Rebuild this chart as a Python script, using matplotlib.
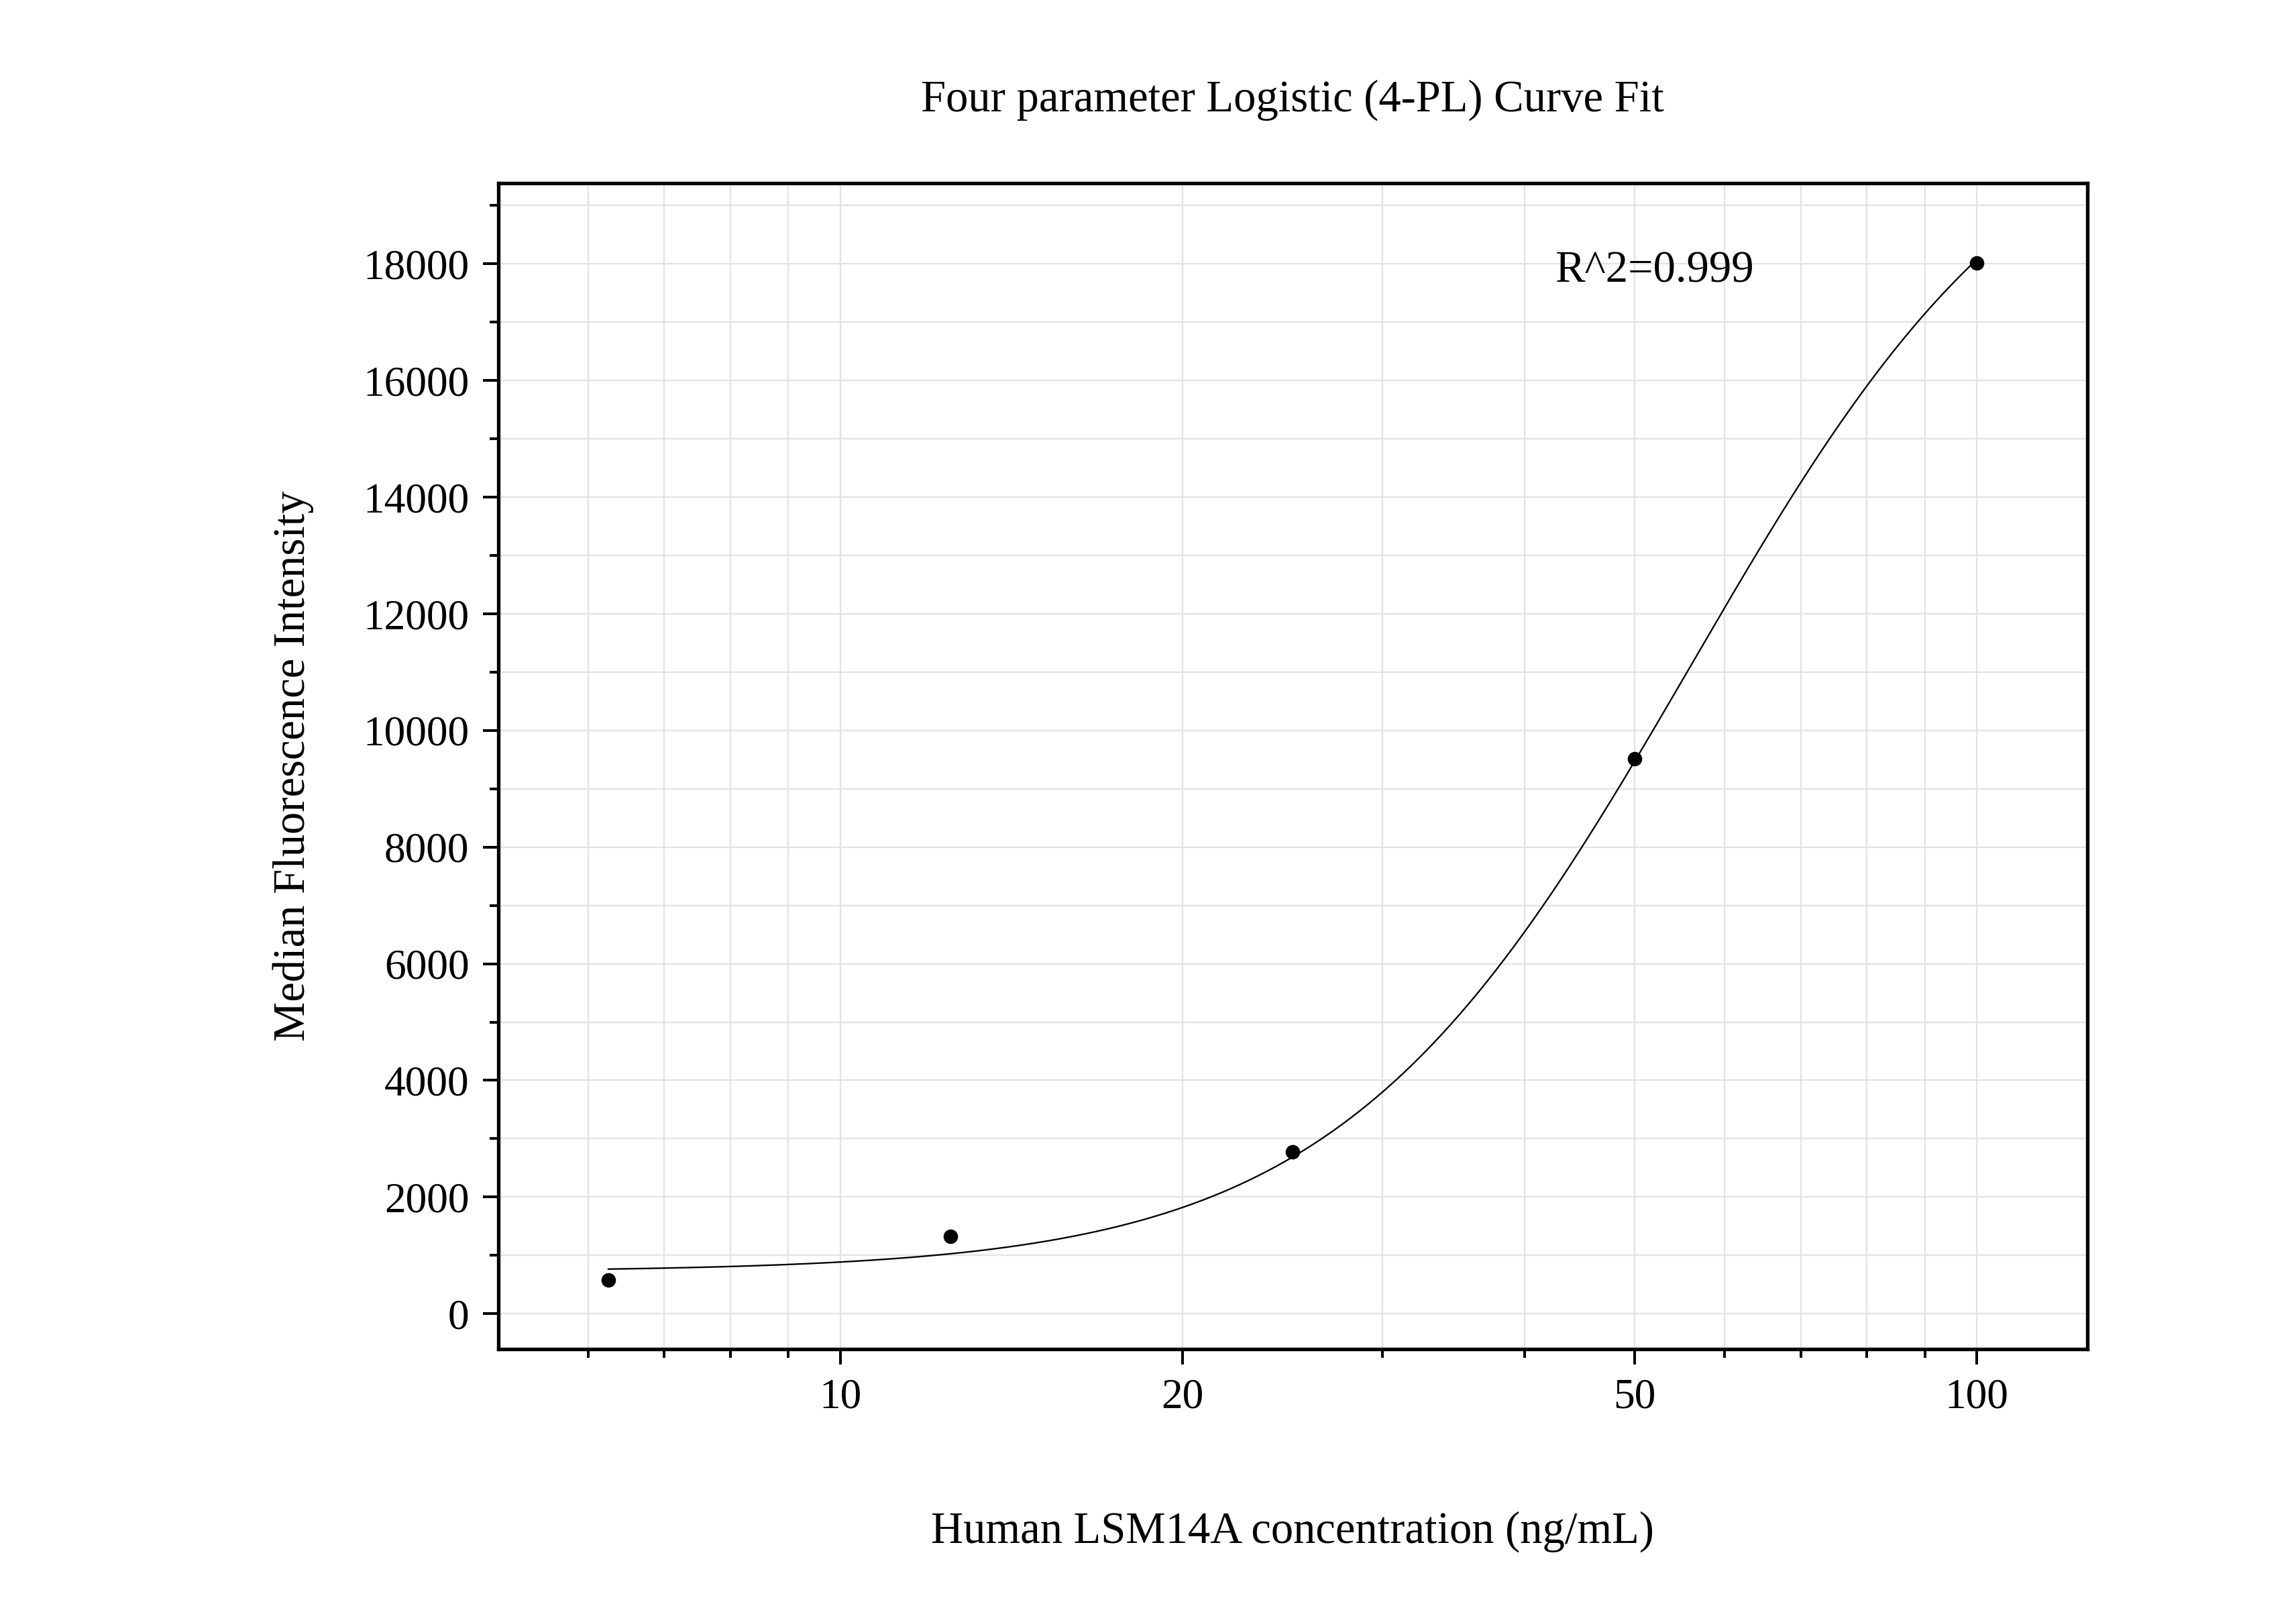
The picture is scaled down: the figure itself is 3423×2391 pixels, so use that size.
import numpy as np
import matplotlib
matplotlib.use("Agg")
import matplotlib.pyplot as plt
from matplotlib.ticker import FixedLocator, NullFormatter, MultipleLocator

# measured standards
conc = [6.25, 12.5, 25, 50, 100]
mfi = [580, 1330, 2780, 9520, 18020]

# 4-PL fit parameters (bottom, top, EC50, hill slope)
fit_bottom, fit_top, fit_c, fit_b = 720, 21500, 56, 2.8
r2_label = "R^2=0.999"

x_ticks = [10, 20, 50, 100]
x_minor = [6, 7, 8, 9, 30, 40, 60, 70, 80, 90]


def four_pl(x):
    return fit_top + (fit_bottom - fit_top) / (1 + (x / fit_c) ** fit_b)


plt.rcParams["font.family"] = "Liberation Serif"
fig = plt.figure(figsize=(3423 / 240, 2391 / 240), dpi=240)
ax = fig.add_axes([0.217, 0.159, 0.692, 0.727])

xs = np.logspace(np.log10(conc[0]), np.log10(conc[-1]), 300)
ax.plot(xs, four_pl(xs), color="black", lw=0.7)
ax.scatter(conc, mfi, color="black", s=30, zorder=3)

ax.set_xscale("log")
ax.set_xlim(5.0, 125)
ax.set_ylim(-605, 19390)
ax.xaxis.set_major_locator(FixedLocator(x_ticks))
ax.xaxis.set_minor_locator(FixedLocator(x_minor))
ax.xaxis.set_minor_formatter(NullFormatter())
ax.set_xticklabels([str(t) for t in x_ticks])
ax.yaxis.set_major_locator(MultipleLocator(2000))
ax.yaxis.set_minor_locator(MultipleLocator(1000))

ax.grid(which="both", color="#e3e3e3", lw=0.7)
ax.set_axisbelow(True)
for s in ax.spines.values():
    s.set_linewidth(1.6)
ax.tick_params(which="both", direction="out", top=False, right=False, labelsize=19, width=1.2)
ax.tick_params(which="major", length=7, pad=6)
ax.tick_params(which="minor", length=4)

ax.set_xlabel("Human LSM14A concentration (ng/mL)", fontsize=20, labelpad=42)
ax.set_ylabel("Median Fluorescence Intensity", fontsize=20, labelpad=22)
ax.set_title("Four parameter Logistic (4-PL) Curve Fit", fontsize=20, pad=32)
ax.text(0.665, 0.915, r2_label, transform=ax.transAxes, fontsize=20)

fig.savefig("out.png", dpi=240)
